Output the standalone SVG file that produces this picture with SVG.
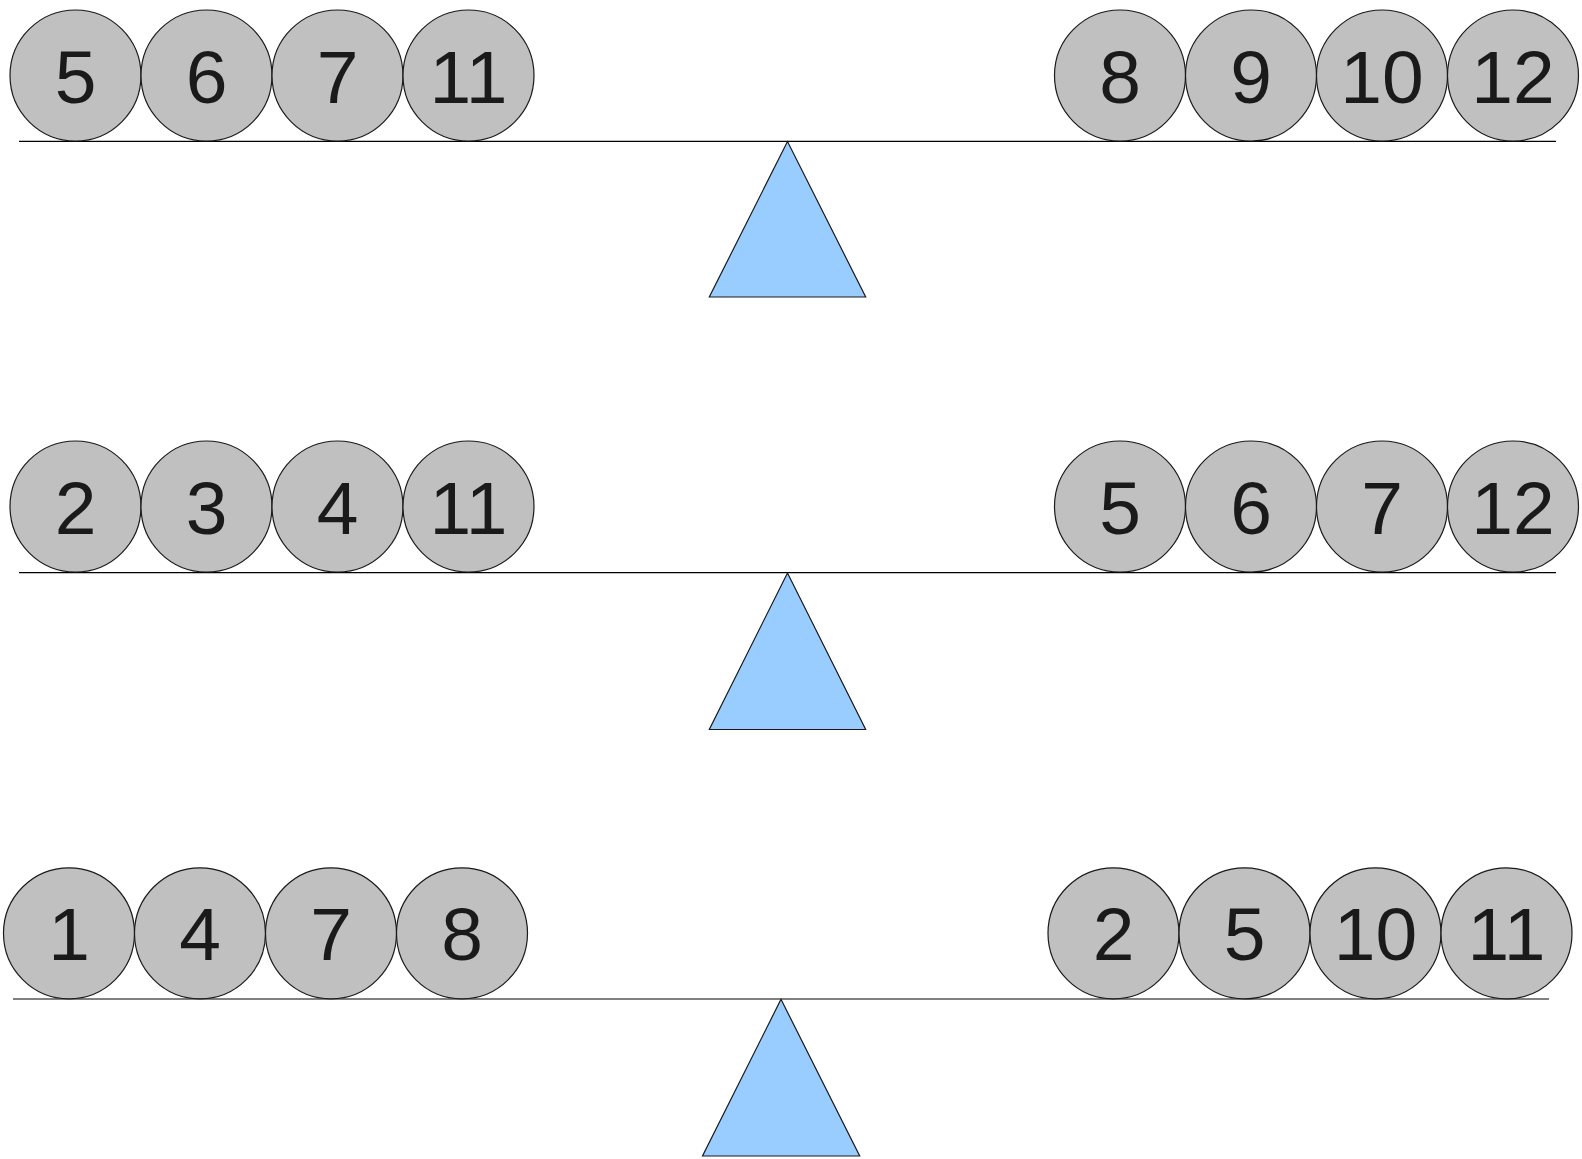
<svg xmlns="http://www.w3.org/2000/svg" width="1582" height="1159" viewBox="0 0 1582 1159">
<style>
.ball{fill:#c0c0c0;stroke:#1a1a1a;stroke-width:1.2}
.num{font-family:"Liberation Sans",Arial,sans-serif;font-size:75px;fill:#1a1a1a;text-anchor:middle}
.beam{stroke:#000;stroke-width:1.2}
.fulcrum{fill:#99ccff;stroke:#1a1a1a;stroke-width:1.2;stroke-linejoin:miter}
</style>
<rect width="1582" height="1159" fill="#fff"/>

<!-- Row 1 -->
<g id="beam1"><line class="beam" x1="19" y1="141.3" x2="1556" y2="141.3"/></g>
<g id="fulcrum1"><polygon class="fulcrum" points="787.5,141.5 709.3,297 865.7,297"/></g>
<g id="r1-5"><circle class="ball" cx="75.5" cy="75.5" r="65.5"/><text class="num" x="75.5" y="102.5">5</text></g>
<g id="r1-6"><circle class="ball" cx="206.5" cy="75.5" r="65.5"/><text class="num" x="206.5" y="102.5">6</text></g>
<g id="r1-7"><circle class="ball" cx="337.5" cy="75.5" r="65.5"/><text class="num" x="337.5" y="102.5">7</text></g>
<g id="r1-11"><circle class="ball" cx="468.5" cy="75.5" r="65.5"/><text class="num" x="468.5" y="102.5">11</text></g>
<g id="r1-8"><circle class="ball" cx="1120" cy="75.5" r="65.5"/><text class="num" x="1120" y="102.5">8</text></g>
<g id="r1-9"><circle class="ball" cx="1251" cy="75.5" r="65.5"/><text class="num" x="1251" y="102.5">9</text></g>
<g id="r1-10"><circle class="ball" cx="1382" cy="75.5" r="65.5"/><text class="num" x="1382" y="102.5">10</text></g>
<g id="r1-12"><circle class="ball" cx="1513" cy="75.5" r="65.5"/><text class="num" x="1513" y="102.5">12</text></g>

<!-- Row 2 -->
<g id="beam2"><line class="beam" x1="19" y1="572.7" x2="1556" y2="572.7" stroke="#333"/></g>
<g id="fulcrum2"><polygon class="fulcrum" points="787.5,573 709.3,729.5 865.7,729.5"/></g>
<g id="r2-2"><circle class="ball" cx="75.5" cy="506.5" r="65.5"/><text class="num" x="75.5" y="533.5">2</text></g>
<g id="r2-3"><circle class="ball" cx="206.5" cy="506.5" r="65.5"/><text class="num" x="206.5" y="533.5">3</text></g>
<g id="r2-4"><circle class="ball" cx="337.5" cy="506.5" r="65.5"/><text class="num" x="337.5" y="533.5">4</text></g>
<g id="r2-11"><circle class="ball" cx="468.5" cy="506.5" r="65.5"/><text class="num" x="468.5" y="533.5">11</text></g>
<g id="r2-5"><circle class="ball" cx="1120" cy="506.5" r="65.5"/><text class="num" x="1120" y="533.5">5</text></g>
<g id="r2-6"><circle class="ball" cx="1251" cy="506.5" r="65.5"/><text class="num" x="1251" y="533.5">6</text></g>
<g id="r2-7"><circle class="ball" cx="1382" cy="506.5" r="65.5"/><text class="num" x="1382" y="533.5">7</text></g>
<g id="r2-12"><circle class="ball" cx="1513" cy="506.5" r="65.5"/><text class="num" x="1513" y="533.5">12</text></g>

<!-- Row 3 -->
<g id="beam3"><line x1="13" y1="999" x2="1549" y2="999" stroke="#808080" stroke-width="1.8"/></g>
<g id="fulcrum3"><polygon class="fulcrum" points="781,999.3 702.5,1156 859.7,1156"/></g>
<g id="r3-1"><circle class="ball" cx="69" cy="933.3" r="65.5"/><text class="num" x="69" y="960.3">1</text></g>
<g id="r3-4"><circle class="ball" cx="200" cy="933.3" r="65.5"/><text class="num" x="200" y="960.3">4</text></g>
<g id="r3-7"><circle class="ball" cx="331" cy="933.3" r="65.5"/><text class="num" x="331" y="960.3">7</text></g>
<g id="r3-8"><circle class="ball" cx="462" cy="933.3" r="65.5"/><text class="num" x="462" y="960.3">8</text></g>
<g id="r3-2"><circle class="ball" cx="1113.5" cy="933.3" r="65.5"/><text class="num" x="1113.5" y="960.3">2</text></g>
<g id="r3-5"><circle class="ball" cx="1244.5" cy="933.3" r="65.5"/><text class="num" x="1244.5" y="960.3">5</text></g>
<g id="r3-10"><circle class="ball" cx="1375.5" cy="933.3" r="65.5"/><text class="num" x="1375.5" y="960.3">10</text></g>
<g id="r3-11"><circle class="ball" cx="1506.5" cy="933.3" r="65.5"/><text class="num" x="1506.5" y="960.3">11</text></g>
</svg>
